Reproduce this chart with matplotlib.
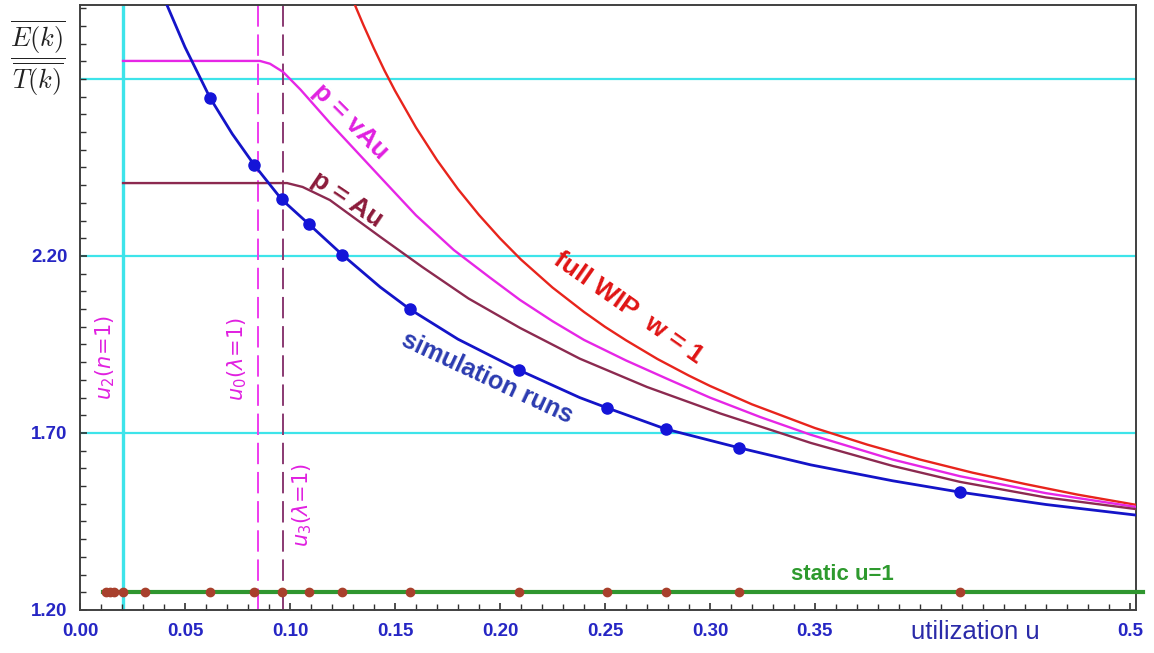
import matplotlib
matplotlib.use("Agg")
import matplotlib.pyplot as plt
from matplotlib.ticker import MultipleLocator

# values
blue_u = [0.0414, 0.05, 0.062, 0.0725, 0.083, 0.096, 0.109, 0.125, 0.143, 0.157, 0.18,
          0.209, 0.238, 0.251, 0.279, 0.314, 0.348, 0.387, 0.419, 0.46, 0.503]
blue_v = [2.909, 2.79, 2.646, 2.545, 2.457, 2.36, 2.29, 2.203, 2.112, 2.05, 1.965,
          1.878, 1.80, 1.771, 1.711, 1.658, 1.61, 1.565, 1.533, 1.498, 1.468]

sim_u = [0.062, 0.083, 0.096, 0.109, 0.125, 0.157, 0.209, 0.251, 0.279, 0.314, 0.419]
sim_v = [2.646, 2.457, 2.36, 2.29, 2.203, 2.05, 1.878, 1.771, 1.711, 1.658, 1.533]

mag_u = [0.0205, 0.0857, 0.0905, 0.0967, 0.105, 0.119, 0.143, 0.16, 0.178, 0.195, 0.2095,
         0.225, 0.240, 0.26, 0.28, 0.30, 0.324, 0.348, 0.387, 0.419, 0.46, 0.503]
mag_v = [2.751, 2.751, 2.743, 2.720, 2.67, 2.576, 2.423, 2.315, 2.217, 2.14, 2.076,
         2.016, 1.963, 1.905, 1.852, 1.80, 1.745, 1.695, 1.625, 1.578, 1.53, 1.491]

brown_u = [0.0205, 0.0986, 0.106, 0.119, 0.143, 0.163, 0.185, 0.2095, 0.238, 0.27,
           0.305, 0.348, 0.387, 0.419, 0.46, 0.503]
brown_v = [2.406, 2.406, 2.395, 2.358, 2.254, 2.169, 2.08, 1.997, 1.91, 1.83,
           1.755, 1.672, 1.607, 1.562, 1.518, 1.485]

red_u = [0.131, 0.133, 0.135, 0.14, 0.145, 0.15, 0.16, 0.17, 0.18, 0.19, 0.2, 0.21, 0.225,
         0.24, 0.25, 0.26, 0.275, 0.29, 0.3, 0.32, 0.35, 0.375, 0.4, 0.425, 0.45, 0.475, 0.503]
red_v = [2.908, 2.88, 2.852, 2.786, 2.724, 2.667, 2.563, 2.471, 2.389, 2.316, 2.25, 2.19, 2.111,
         2.042, 2.0, 1.962, 1.909, 1.862, 1.833, 1.781, 1.714, 1.667, 1.625, 1.588, 1.556, 1.526, 1.497]

static_u = [0.0124, 0.0143, 0.0162, 0.0205, 0.031, 0.062, 0.083, 0.096, 0.109, 0.125,
            0.157, 0.209, 0.251, 0.279, 0.314, 0.419]
static_level = 1.25
static_line_u = [0.011, 0.506]

hlines = [1.70, 2.20, 2.70]
u2 = 0.0205
u0 = 0.0848
u3 = 0.0967

xticks = [0.0, 0.05, 0.10, 0.15, 0.20, 0.25, 0.30, 0.35, 0.5]
xticklabels = ["0.00", "0.05", "0.10", "0.15", "0.20", "0.25", "0.30", "0.35", "0.5"]
yticks = [1.20, 1.70, 2.20]
yticklabels = ["1.20", "1.70", "2.20"]

fam = ["Liberation Sans Narrow", "Liberation Sans", "DejaVu Sans"]
tick_col = "#2626c4"

fig = plt.figure(figsize=(11.54, 6.53), dpi=100)
ax = fig.add_axes([80/1154, 43/653, 1056/1154, 605/653])
ax.set_xlim(0, 0.5029)
ax.set_ylim(1.2, 2.909)

# cyan reference lines
for h in hlines:
    ax.axhline(h, color="#3ee4ea", lw=1.6, zorder=1)
ax.axvline(u2, color="#3ee4ea", lw=2.4, zorder=1)

# dashed verticals
ax.axvline(u0, color="#ee3cee", lw=1.4, dashes=(11, 4), zorder=2)
ax.axvline(u3, color="#8a3a72", lw=1.4, dashes=(11, 4), zorder=2)

# curves
ax.plot(red_u, red_v, color="#e8241c", lw=1.7, zorder=3)
ax.plot(mag_u, mag_v, color="#e626e6", lw=1.7, zorder=3)
ax.plot(brown_u, brown_v, color="#8c2a50", lw=1.7, zorder=3)
ax.plot(blue_u, blue_v, color="#1414c8", lw=2.0, zorder=3)
ax.plot(sim_u, sim_v, "o", color="#1414d8", ms=8, zorder=4)

# static line with run markers
ax.plot(static_line_u, [static_level, static_level], color="#2f962f", lw=3, zorder=3, clip_on=False)
ax.plot(static_u, [static_level]*len(static_u), "o", color="#a8402c", ms=6, zorder=4)

# text labels
ax.text(0.1286, 2.581, "p = vAu", color="#e020e0", fontsize=19, fontweight="bold",
        family=fam, rotation=-45, rotation_mode="anchor", ha="center", va="center")
ax.text(0.127, 2.358, "p = Au", color="#8b1a3a", fontsize=19, fontweight="bold",
        family=fam, rotation=-34, rotation_mode="anchor", ha="center", va="center")
ax.text(0.261, 2.053, "full WIP  w = 1", color="#e01414", fontsize=19, fontweight="bold",
        family=fam, rotation=-35, rotation_mode="anchor", ha="center", va="center")
ax.text(0.194, 1.855, "simulation runs", color="#2b3bb0", fontsize=18, fontweight="bold",
        family=fam, rotation=-25, rotation_mode="anchor", ha="center", va="center")
ax.text(0.363, 1.299, "static u=1", color="#2e9a2e", fontsize=16, fontweight="bold",
        family=fam, ha="center", va="center")

ax.text(0.012, 1.912, r"$u_2(n\!=\!1)$", color="#e020e0", fontsize=15, rotation=90,
        ha="center", va="center")
ax.text(0.0748, 1.909, r"$u_0(\lambda\!=\!1)$", color="#e020e0", fontsize=15, rotation=90,
        ha="center", va="center")
ax.text(0.106, 1.497, r"$u_3(\lambda\!=\!1)$", color="#e020e0", fontsize=15, rotation=90,
        ha="center", va="center")

ax.text(0.4265, 1.2 - 22/354, "utilization u", color="#2a2aa8", fontsize=18.5,
        family=fam, ha="center", va="center", clip_on=False)

fig.text(38/1154, 1 - 58/653, r"$\dfrac{\overline{E(k)}}{\overline{T(k)}}$", fontsize=19,
         math_fontfamily="cm", ha="center", va="center", color="#222222")

# axes styling
for s in ax.spines.values():
    s.set_color("#404040")
    s.set_linewidth(1.4)
ax.set_xticks(xticks)
ax.set_xticklabels(xticklabels)
ax.set_yticks(yticks)
ax.set_yticklabels(yticklabels)
ax.xaxis.set_minor_locator(MultipleLocator(0.01))
ax.yaxis.set_minor_locator(MultipleLocator(0.05))
ax.tick_params(which="both", direction="in", color="#303030")
ax.tick_params(which="major", length=5, width=1.2)
ax.tick_params(which="minor", length=4, width=1.0)
ax.tick_params(axis="x", which="major", pad=9)
ax.tick_params(axis="y", which="major", pad=9)
for lab in ax.get_xticklabels() + ax.get_yticklabels():
    lab.set_family(fam)
    lab.set_fontweight("bold")
    lab.set_fontsize(13.5)
    lab.set_color(tick_col)

fig.savefig("out.png", dpi=100)
